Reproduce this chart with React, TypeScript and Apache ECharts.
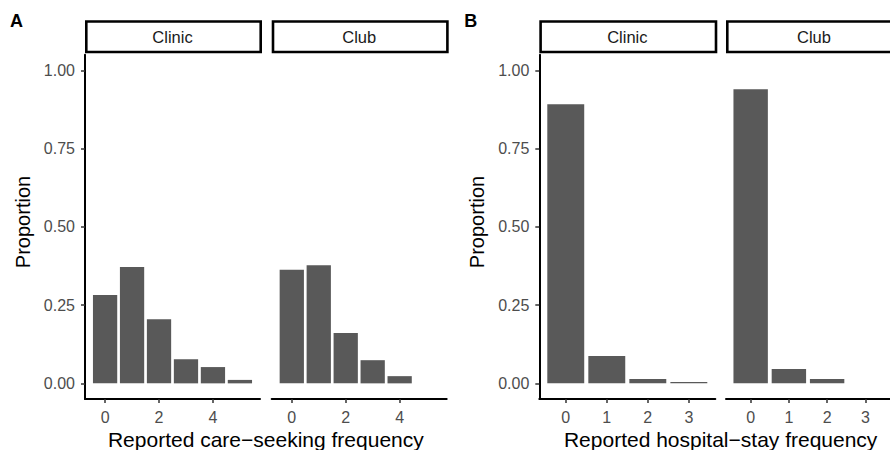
import React, { useEffect, useRef } from "react";
import * as echarts from "echarts";

const careCategories = [0, 1, 2, 3, 4, 5];
const careClinic = [0.282, 0.372, 0.205, 0.077, 0.052, 0.011];
const careClub = [0.363, 0.377, 0.161, 0.074, 0.023, 0];
const hospCategories = [0, 1, 2, 3];
const hospClinic = [0.892, 0.087, 0.014, 0.004];
const hospClub = [0.94, 0.046, 0.014, 0];
const careTicks = [0, 2, 4];
const hospTicks = [0, 1, 2, 3];
const yTicks = [0, 0.25, 0.5, 0.75, 1];
const facetNames = ["Clinic", "Club"];
const panelLetters = ["A", "B"];
const xTitles = ["Reported care\u2212seeking frequency", "Reported hospital\u2212stay frequency"];
const yTitle = "Proportion";

const FONT = "'Liberation Sans', Arial, Helvetica, sans-serif";
const BAR = "#595959";
const TOP = 54.7;
const HEIGHT = 344.3;

export default function App() {
  const ref = useRef<HTMLDivElement>(null);
  useEffect(() => {
    if (!ref.current) return;
    const chart = echarts.init(ref.current, null, { renderer: "svg" });

    const panels = [
      { left: 85, width: 175, cats: careCategories, vals: careClinic, xmin: -0.745, xmax: 5.745, ticks: careTicks, showY: true, facet: 0, group: 0 },
      { left: 271.7, width: 175, cats: careCategories, vals: careClub, xmin: -0.745, xmax: 5.745, ticks: careTicks, showY: false, facet: 1, group: 0 },
      { left: 539.3, width: 176, cats: hospCategories, vals: hospClinic, xmin: -0.645, xmax: 3.645, ticks: hospTicks, showY: true, facet: 0, group: 1 },
      { left: 726, width: 176, cats: hospCategories, vals: hospClub, xmin: -0.645, xmax: 3.645, ticks: hospTicks, showY: false, facet: 1, group: 1 },
    ];

    const grid = panels.map((p) => ({ left: p.left, top: TOP, width: p.width, height: HEIGHT, containLabel: false }));

    const xAxis = panels.map((p, i) => ({
      type: "value",
      gridIndex: i,
      min: p.xmin,
      max: p.xmax,
      axisLine: { show: true, onZero: false, lineStyle: { color: "#000", width: 2 } },
      axisTick: { show: true, customValues: p.ticks, length: 4, lineStyle: { color: "#333", width: 1.5 } },
      axisLabel: {
        show: true,
        customValues: p.ticks,
        formatter: (v: number) => String(v),
        color: "#4D4D4D",
        fontSize: 16,
        fontFamily: FONT,
        margin: 10,
      },
      splitLine: { show: false },
    }));

    const yAxis = panels.map((p, i) => ({
      type: "value",
      gridIndex: i,
      min: -0.05,
      max: 1.05,
      axisLine: { show: p.showY, onZero: false, lineStyle: { color: "#000", width: 2 } },
      axisTick: { show: p.showY, customValues: yTicks, length: 4, lineStyle: { color: "#333", width: 1.5 } },
      axisLabel: {
        show: p.showY,
        customValues: yTicks,
        formatter: (v: number) => v.toFixed(2),
        color: "#4D4D4D",
        fontSize: 16,
        fontFamily: FONT,
        margin: 10,
      },
      splitLine: { show: false },
    }));

    const series = panels.map((p, i) => ({
      type: "custom",
      xAxisIndex: i,
      yAxisIndex: i,
      data: p.cats.map((c, j) => [c, p.vals[j]]).filter((d) => d[1] > 0),
      encode: { x: 0, y: 1 },
      renderItem: (params: any, api: any) => {
        const x = api.value(0);
        const y = api.value(1);
        const a = api.coord([x - 0.45, y]);
        const b = api.coord([x + 0.45, 0]);
        return {
          type: "rect",
          shape: { x: a[0], y: a[1], width: b[0] - a[0], height: b[1] - a[1] },
          style: { fill: BAR },
        };
      },
    }));

    const graphic: any[] = [];
    panels.forEach((p) => {
      graphic.push({
        type: "rect",
        shape: { x: p.left + 1.3, y: 21.5, width: p.width - 0.6, height: 30.5 },
        style: { fill: "#fff", stroke: "#000", lineWidth: 2.6 },
      });
      graphic.push({
        type: "text",
        x: p.left + p.width / 2,
        y: 37,
        style: {
          text: facetNames[p.facet],
          fill: "#1A1A1A",
          font: `16.5px ${FONT}`,
          textAlign: "center",
          textVerticalAlign: "middle",
        },
      });
    });
    [0, 1].forEach((g) => {
      const ps = panels.filter((p) => p.group === g);
      const l = ps[0].left;
      const r = ps[1].left + ps[1].width;
      graphic.push({
        type: "text",
        x: (l + r) / 2,
        y: 439,
        style: { text: xTitles[g], fill: "#000", font: `21px ${FONT}`, textAlign: "center", textVerticalAlign: "middle" },
      });
      graphic.push({
        type: "text",
        x: l - 62.5,
        y: 222,
        rotation: Math.PI / 2,
        style: { text: yTitle, fill: "#000", font: `20px ${FONT}`, textAlign: "center", textVerticalAlign: "middle" },
      });
      graphic.push({
        type: "text",
        x: l - 68.5,
        y: 21,
        style: { text: panelLetters[g], fill: "#000", font: `bold 18px ${FONT}`, textAlign: "center", textVerticalAlign: "middle" },
      });
    });

    chart.setOption({
      animation: false,
      backgroundColor: "#fff",
      grid,
      xAxis,
      yAxis,
      series,
      graphic,
    } as any);

    return () => chart.dispose();
  }, []);

  return <div ref={ref} style={{ position: "fixed", left: 0, top: 0, width: 890, height: 450 }} />;
}
